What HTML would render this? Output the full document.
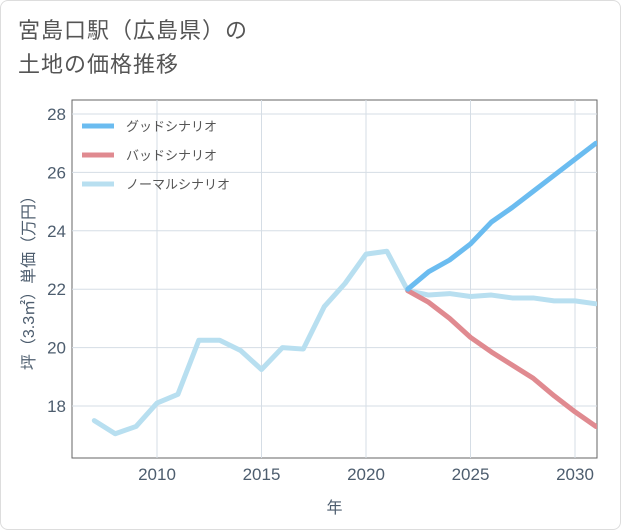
<!DOCTYPE html>
<html><head><meta charset="utf-8">
<style>
html,body{margin:0;padding:0;background:#fff;}
body{width:621px;height:530px;overflow:hidden;font-family:"Liberation Sans","Noto Sans CJK JP",sans-serif;}
.card{position:absolute;left:0;top:0;width:619px;height:528px;border:1px solid #ddd;border-radius:8px;background:#fff;}
.title{position:absolute;left:18px;top:14px;font-size:22px;line-height:34px;color:#555;letter-spacing:1px;}
</style></head>
<body>
<div class="card"></div>
<div class="title">宮島口駅（広島県）の<br>土地の価格推移</div>
<svg id="chart" width="621" height="530" style="position:absolute;left:0;top:0"></svg>
<script>
const years=[2007,2008,2009,2010,2011,2012,2013,2014,2015,2016,2017,2018,2019,2020,2021,2022,2023,2024,2025,2026,2027,2028,2029,2030,2031];
const normal=[17.5,17.05,17.3,18.1,18.4,20.25,20.25,19.9,19.25,20.0,19.95,21.4,22.2,23.2,23.3,21.95,21.8,21.85,21.75,21.8,21.7,21.7,21.6,21.6,21.5];
const fYears=[2022,2023,2024,2025,2026,2027,2028,2029,2030,2031];
const good=[22.0,22.6,23.0,23.55,24.3,24.8,25.35,25.9,26.45,27.0];
const bad=[21.95,21.55,21.0,20.35,19.85,19.4,18.95,18.35,17.8,17.3];
const xTicks=[2010,2015,2020,2025,2030];
const yTicks=[18,20,22,24,26,28];
const seriesNames=["グッドシナリオ","バッドシナリオ","ノーマルシナリオ"];
const colors=["#6bbcf0","#e08a90","#b8dff0"];

const svg=document.getElementById('chart');
const NS='http://www.w3.org/2000/svg';
const L=72,R=597,T=100,B=458;
const AX='#4d5d6e';
const x=v=>157+(v-2010)*(575-157)/20;
const y=v=>406-(v-18)*(406-114)/10;
function el(tag,attrs,parent){const e=document.createElementNS(NS,tag);for(const k in attrs)e.setAttribute(k,attrs[k]);(parent||svg).appendChild(e);return e;}

const frame=el('rect',{x:L,y:T,width:R-L,height:B-T,fill:'none',stroke:'#666','stroke-width':1});


xTicks.forEach(t=>{
  const g=el('line',{x1:x(t),x2:x(t),y1:T,y2:B,stroke:'#d5dde5','stroke-width':1});
  
  
  const tx=el('text',{x:x(t),y:B+22,'text-anchor':'middle','font-size':17,fill:AX});
  tx.textContent=t;
  
  
});
yTicks.forEach(t=>{
  const g=el('line',{x1:L,x2:R,y1:y(t),y2:y(t),stroke:'#d5dde5','stroke-width':1});
  
  
  const tx=el('text',{x:L-6,y:y(t)+6,'text-anchor':'end','font-size':17,fill:AX});
  tx.textContent=t;
  
  
});
const xt=el('text',{x:(L+R)/2,y:513,'text-anchor':'middle','font-size':16,fill:AX});
xt.textContent='年';


const yt=el('text',{x:0,y:0,'text-anchor':'middle','font-size':16,fill:AX,transform:'translate(34,'+((T+B)/2)+') rotate(-90)'});
yt.textContent='坪（3.3㎡）単価（万円）';



const clip=el('clipPath',{id:'c'});el('rect',{x:L,y:T,width:R-L,height:B-T},clip);
function line(xs,vs,c,name){
  const p=el('polyline',{points:xs.map((v,i)=>x(v)+','+y(vs[i])).join(' '),fill:'none',stroke:c,'stroke-width':5,'stroke-linejoin':'round','stroke-linecap':'round','clip-path':'url(#c)'});
  
  
}
line(years,normal,colors[2],'normal-scenario-line');
line(fYears,bad,colors[1],'bad-scenario-line');
line(fYears,good,colors[0],'good-scenario-line');

seriesNames.forEach((n,i)=>{
  const yy=126+i*29;
  const l=el('line',{x1:82,x2:114,y1:yy,y2:yy,stroke:colors[i],'stroke-width':5});
  
  
  const t=el('text',{x:126,y:yy+5,'font-size':13,fill:'#555'});
  t.textContent=n;
  
  
});
</script>
</body></html>
